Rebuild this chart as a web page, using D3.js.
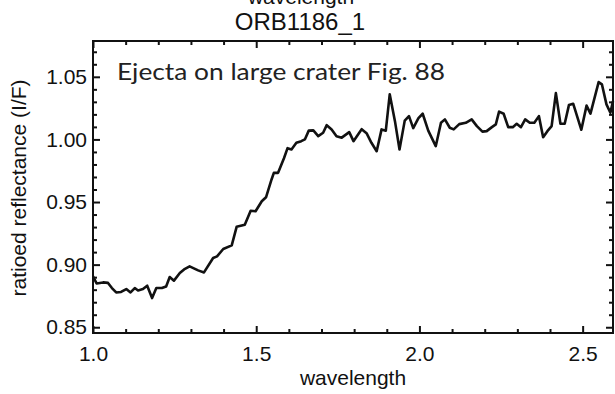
<!DOCTYPE html>
<html lang="en">
<head>
    <meta charset="UTF-8">
    <title>ORB1186_1</title>
    <script src="https://d3js.org/d3.v7.min.js"></script>
    <style>
        body {
            margin: 0;
            background: #fff;
        }
        svg {
            display: block;
        }
        .axis text {
            font-family: "Liberation Sans", Arial, sans-serif;
            font-size: 21px;
            fill: #111;
        }
        .axis line {
            stroke: #111;
            stroke-width: 2;
        }
        .axis path.domain {
            display: none;
        }
        text.label {
            font-family: "Liberation Sans", Arial, sans-serif;
            font-size: 21px;
            fill: #111;
        }
    </style>
</head>
<body>
<script>
    // spectrum
    var wavelength = [1.000, 1.011, 1.031, 1.046, 1.058, 1.071, 1.086, 1.102, 1.115, 1.128,
        1.138, 1.153, 1.166, 1.181, 1.194, 1.211, 1.224, 1.235, 1.248, 1.266,
        1.279, 1.296, 1.322, 1.340, 1.368, 1.380, 1.399, 1.425, 1.440, 1.465,
        1.483, 1.498, 1.517, 1.530, 1.547, 1.554, 1.567, 1.585, 1.596, 1.608,
        1.623, 1.638, 1.649, 1.661, 1.675, 1.690, 1.705, 1.716, 1.731, 1.746,
        1.762, 1.785, 1.798, 1.823, 1.838, 1.853, 1.869, 1.884, 1.897, 1.909,
        1.925, 1.939, 1.955, 1.968, 1.981, 1.997, 2.010, 2.027, 2.050, 2.066,
        2.078, 2.093, 2.105, 2.122, 2.142, 2.160, 2.176, 2.193, 2.206, 2.222,
        2.234, 2.244, 2.258, 2.272, 2.286, 2.298, 2.311, 2.324, 2.338, 2.352,
        2.366, 2.379, 2.392, 2.405, 2.418, 2.432, 2.445, 2.458, 2.471, 2.496,
        2.512, 2.524, 2.549, 2.559, 2.573, 2.585, 2.593];
    var reflectance = [0.8906, 0.8850, 0.8858, 0.8854, 0.8813, 0.8778, 0.8782, 0.8805, 0.8778, 0.8813,
        0.8794, 0.8805, 0.8832, 0.8733, 0.8813, 0.8813, 0.8826, 0.8901, 0.8872, 0.8933,
        0.8962, 0.8986, 0.8954, 0.8938, 0.9053, 0.9066, 0.9125, 0.9154, 0.9302, 0.9318,
        0.9430, 0.9426, 0.9506, 0.9538, 0.9680, 0.9733, 0.9733, 0.9850, 0.9930, 0.9920,
        0.9973, 0.9986, 1.0000, 1.0070, 1.0072, 1.0026, 1.0053, 1.0114, 1.0080, 1.0026,
        1.0014, 1.0058, 0.9986, 1.0082, 1.0050, 0.9973, 0.9906, 1.0080, 1.0070, 1.0360,
        1.0146, 0.9920, 1.0150, 1.0186, 1.0090, 1.0170, 1.0205, 1.0070, 0.9946, 1.0133,
        1.0160, 1.0093, 1.0080, 1.0122, 1.0133, 1.0160, 1.0106, 1.0062, 1.0066, 1.0098,
        1.0120, 1.0222, 1.0205, 1.0098, 1.0098, 1.0125, 1.0098, 1.0160, 1.0133, 1.0133,
        1.0186, 1.0018, 1.0066, 1.0106, 1.0370, 1.0125, 1.0125, 1.0274, 1.0285, 1.0077,
        1.0270, 1.0206, 1.0458, 1.0440, 1.0280, 1.0213, 1.0306];

    var xMajor = [1.0, 1.5, 2.0, 2.5];
    var xMinor = [1.1, 1.2, 1.3, 1.4, 1.6, 1.7, 1.8, 1.9, 2.1, 2.2, 2.3, 2.4];
    var yMajor = [0.85, 0.90, 0.95, 1.00, 1.05];
    var yMinor = [0.86, 0.87, 0.88, 0.89, 0.91, 0.92, 0.93, 0.94, 0.96, 0.97, 0.98, 0.99,
        1.01, 1.02, 1.03, 1.04, 1.06, 1.07];

    var title = "ORB1186_1";
    var note = "Ejecta on large crater Fig. 88";

    var width = 615;
    var height = 394;
    var margin = {top: 41, right: 2, bottom: 61, left: 93};

    var svg = d3.select("body").append("svg")
            .attr("width", width)
            .attr("height", height);

    var xScale = d3.scaleLinear()
            .domain([1.0, 2.593])
            .range([margin.left, width - margin.right]);
    var yScale = d3.scaleLinear()
            .domain([0.8454, 1.0786])
            .range([height - margin.bottom, margin.top]);

    var plotH = height - margin.bottom - margin.top;
    var plotW = width - margin.right - margin.left;

    // bottom
    svg.append("g").attr("class", "axis")
            .attr("transform", "translate(0," + (height - margin.bottom) + ")")
            .call(d3.axisBottom(xScale).tickValues(xMajor).tickSize(-7).tickPadding(13)
                    .tickFormat(d3.format(".1f")));
    svg.append("g").attr("class", "axis")
            .attr("transform", "translate(0," + (height - margin.bottom) + ")")
            .call(d3.axisBottom(xScale).tickValues(xMinor).tickSize(-4).tickFormat(""));
    // top
    svg.append("g").attr("class", "axis")
            .attr("transform", "translate(0," + margin.top + ")")
            .call(d3.axisTop(xScale).tickValues(xMajor).tickSize(-7).tickFormat(""));
    svg.append("g").attr("class", "axis")
            .attr("transform", "translate(0," + margin.top + ")")
            .call(d3.axisTop(xScale).tickValues(xMinor).tickSize(-4).tickFormat(""));
    // left
    svg.append("g").attr("class", "axis")
            .attr("transform", "translate(" + margin.left + ",0)")
            .call(d3.axisLeft(yScale).tickValues(yMajor).tickSize(-7).tickPadding(6)
                    .tickFormat(d3.format(".2f")));
    svg.append("g").attr("class", "axis")
            .attr("transform", "translate(" + margin.left + ",0)")
            .call(d3.axisLeft(yScale).tickValues(yMinor).tickSize(-4).tickFormat(""));
    // right
    svg.append("g").attr("class", "axis")
            .attr("transform", "translate(" + (width - margin.right) + ",0)")
            .call(d3.axisRight(yScale).tickValues(yMajor).tickSize(-7).tickFormat(""));
    svg.append("g").attr("class", "axis")
            .attr("transform", "translate(" + (width - margin.right) + ",0)")
            .call(d3.axisRight(yScale).tickValues(yMinor).tickSize(-4).tickFormat(""));

    svg.append("rect")
            .attr("x", margin.left)
            .attr("y", margin.top)
            .attr("width", plotW)
            .attr("height", plotH)
            .attr("fill", "none")
            .attr("stroke", "#111")
            .attr("stroke-width", 2);

    var line = d3.line()
            .x(function (d, i) { return xScale(wavelength[i]); })
            .y(function (d) { return yScale(d); });

    svg.append("path")
            .datum(reflectance)
            .attr("d", line)
            .attr("fill", "none")
            .attr("stroke", "#111")
            .attr("stroke-width", 2.6)
            .attr("stroke-linejoin", "round");

    // bottom of the previous panel's axis title, cut by the frame edge
    svg.append("text").attr("class", "label")
            .attr("x", 301).attr("y", 4)
            .attr("text-anchor", "middle")
            .text("wavelength");

    svg.append("text").attr("class", "label")
            .attr("x", 300).attr("y", 30)
            .attr("text-anchor", "middle")
            .style("font-size", "24px")
            .text(title);

    svg.append("text").attr("class", "label")
            .attr("x", margin.left + plotW / 2).attr("y", 385)
            .attr("text-anchor", "middle")
            .text("wavelength");

    svg.append("text").attr("class", "label")
            .attr("text-anchor", "middle")
            .attr("transform", "translate(26," + (margin.top + 147) + ") rotate(-90)")
            .text("ratioed reflectance (I/F)");

    svg.append("text")
            .attr("x", 117).attr("y", 80)
            .attr("textLength", 328)
            .attr("lengthAdjust", "spacingAndGlyphs")
            .style("font-family", "Lato, 'Open Sans', sans-serif")
            .style("font-size", "24px")
            .style("fill", "#222")
            .text(note);
</script>
</body>
</html>
